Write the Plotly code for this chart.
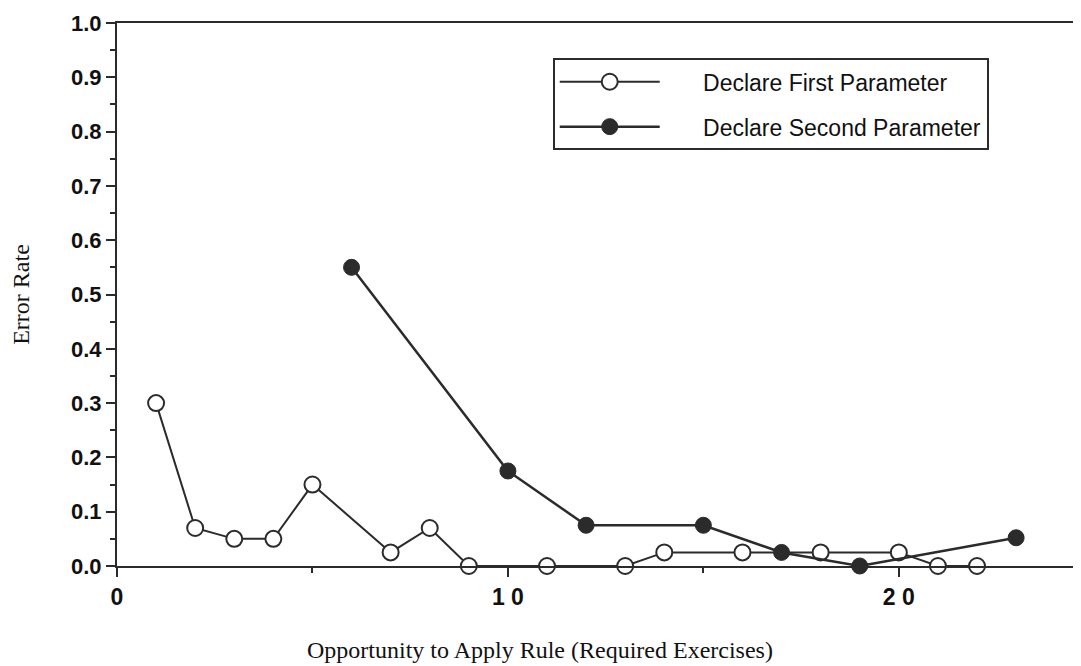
import plotly.graph_objects as go

# opportunity number and error rate for each rule
first_x = [1, 2, 3, 4, 5, 7, 8, 9, 11, 13, 14, 16, 18, 20, 21, 22]
first_y = [0.30, 0.07, 0.05, 0.05, 0.15, 0.025, 0.07, 0.0, 0.0, 0.0,
           0.025, 0.025, 0.025, 0.025, 0.0, 0.0]

second_x = [6, 10, 12, 15, 17, 19, 23]
second_y = [0.55, 0.175, 0.075, 0.075, 0.025, 0.0, 0.052]

x_ticks = [0, 10, 20]
x_tick_labels = ["0", "1 0", "2 0"]
y_ticks = [0.0, 0.1, 0.2, 0.3, 0.4, 0.5, 0.6, 0.7, 0.8, 0.9, 1.0]

ink = "#2b2b2b"
sans = "Liberation Sans, Arial, sans-serif"
serif = "Liberation Serif, Times New Roman, serif"

fig = go.Figure()

fig.add_trace(go.Scatter(
    x=first_x, y=first_y, mode="lines+markers",
    name="      Declare First Parameter", legendgroup="a",
    line=dict(color=ink, width=2),
    marker=dict(symbol="circle", size=16, color="white",
                line=dict(color=ink, width=2)),
    cliponaxis=False,
))

fig.add_trace(go.Scatter(
    x=second_x, y=second_y, mode="lines+markers",
    name="      Declare Second Parameter", legendgroup="b",
    line=dict(color=ink, width=2.5),
    marker=dict(symbol="circle", size=16, color=ink,
                line=dict(color=ink, width=1)),
    cliponaxis=False,
))

# the page body has an 8px margin, so the margins are shifted to compensate
fig.update_layout(
    width=1081, height=666,
    margin=dict(l=109, r=8, t=15, b=108),
    paper_bgcolor="white", plot_bgcolor="white",
    font=dict(family=sans, color=ink),
    legend=dict(
        x=0.452, y=0.935, xanchor="left", yanchor="top",
        bordercolor=ink, borderwidth=2, bgcolor="white",
        font=dict(family=sans, size=23, color="#111"),
        itemwidth=100, traceorder="grouped", tracegroupgap=12,
    ),
    showlegend=True,
)

fig.add_annotation(
    text="Opportunity to Apply Rule (Required Exercises)",
    xref="paper", yref="paper", x=0.439, y=-0.155,
    xanchor="center", yanchor="middle", showarrow=False,
    font=dict(family=serif, size=24, color="#111"),
)

fig.update_xaxes(
    range=[0, 24.66], showgrid=False, zeroline=False,
    showline=True, linecolor=ink, linewidth=2, mirror=True,
    tickvals=x_ticks, ticktext=x_tick_labels,
    ticks="outside", ticklen=9, tickwidth=2, tickcolor=ink,
    minor=dict(dtick=5, tick0=0, ticks="outside", ticklen=5,
               tickwidth=1.5, tickcolor=ink),
    tickfont=dict(family=sans, size=23, color="#111", weight="bold"),
    automargin=False,
)

fig.update_yaxes(
    range=[0, 1.0], showgrid=False, zeroline=False,
    showline=True, linecolor=ink, linewidth=2,
    tickvals=y_ticks, tickformat=".1f",
    ticks="outside", ticklen=9, tickwidth=2, tickcolor=ink,
    minor=dict(dtick=0.05, tick0=0, ticks="outside", ticklen=5,
               tickwidth=1.5, tickcolor=ink),
    tickfont=dict(family=sans, size=22, color="#111", weight="bold"),
    title=dict(text="Error Rate",
               font=dict(family=serif, size=24, color="#111"),
               standoff=35),
    automargin=False,
)

fig.write_html("out.html")
